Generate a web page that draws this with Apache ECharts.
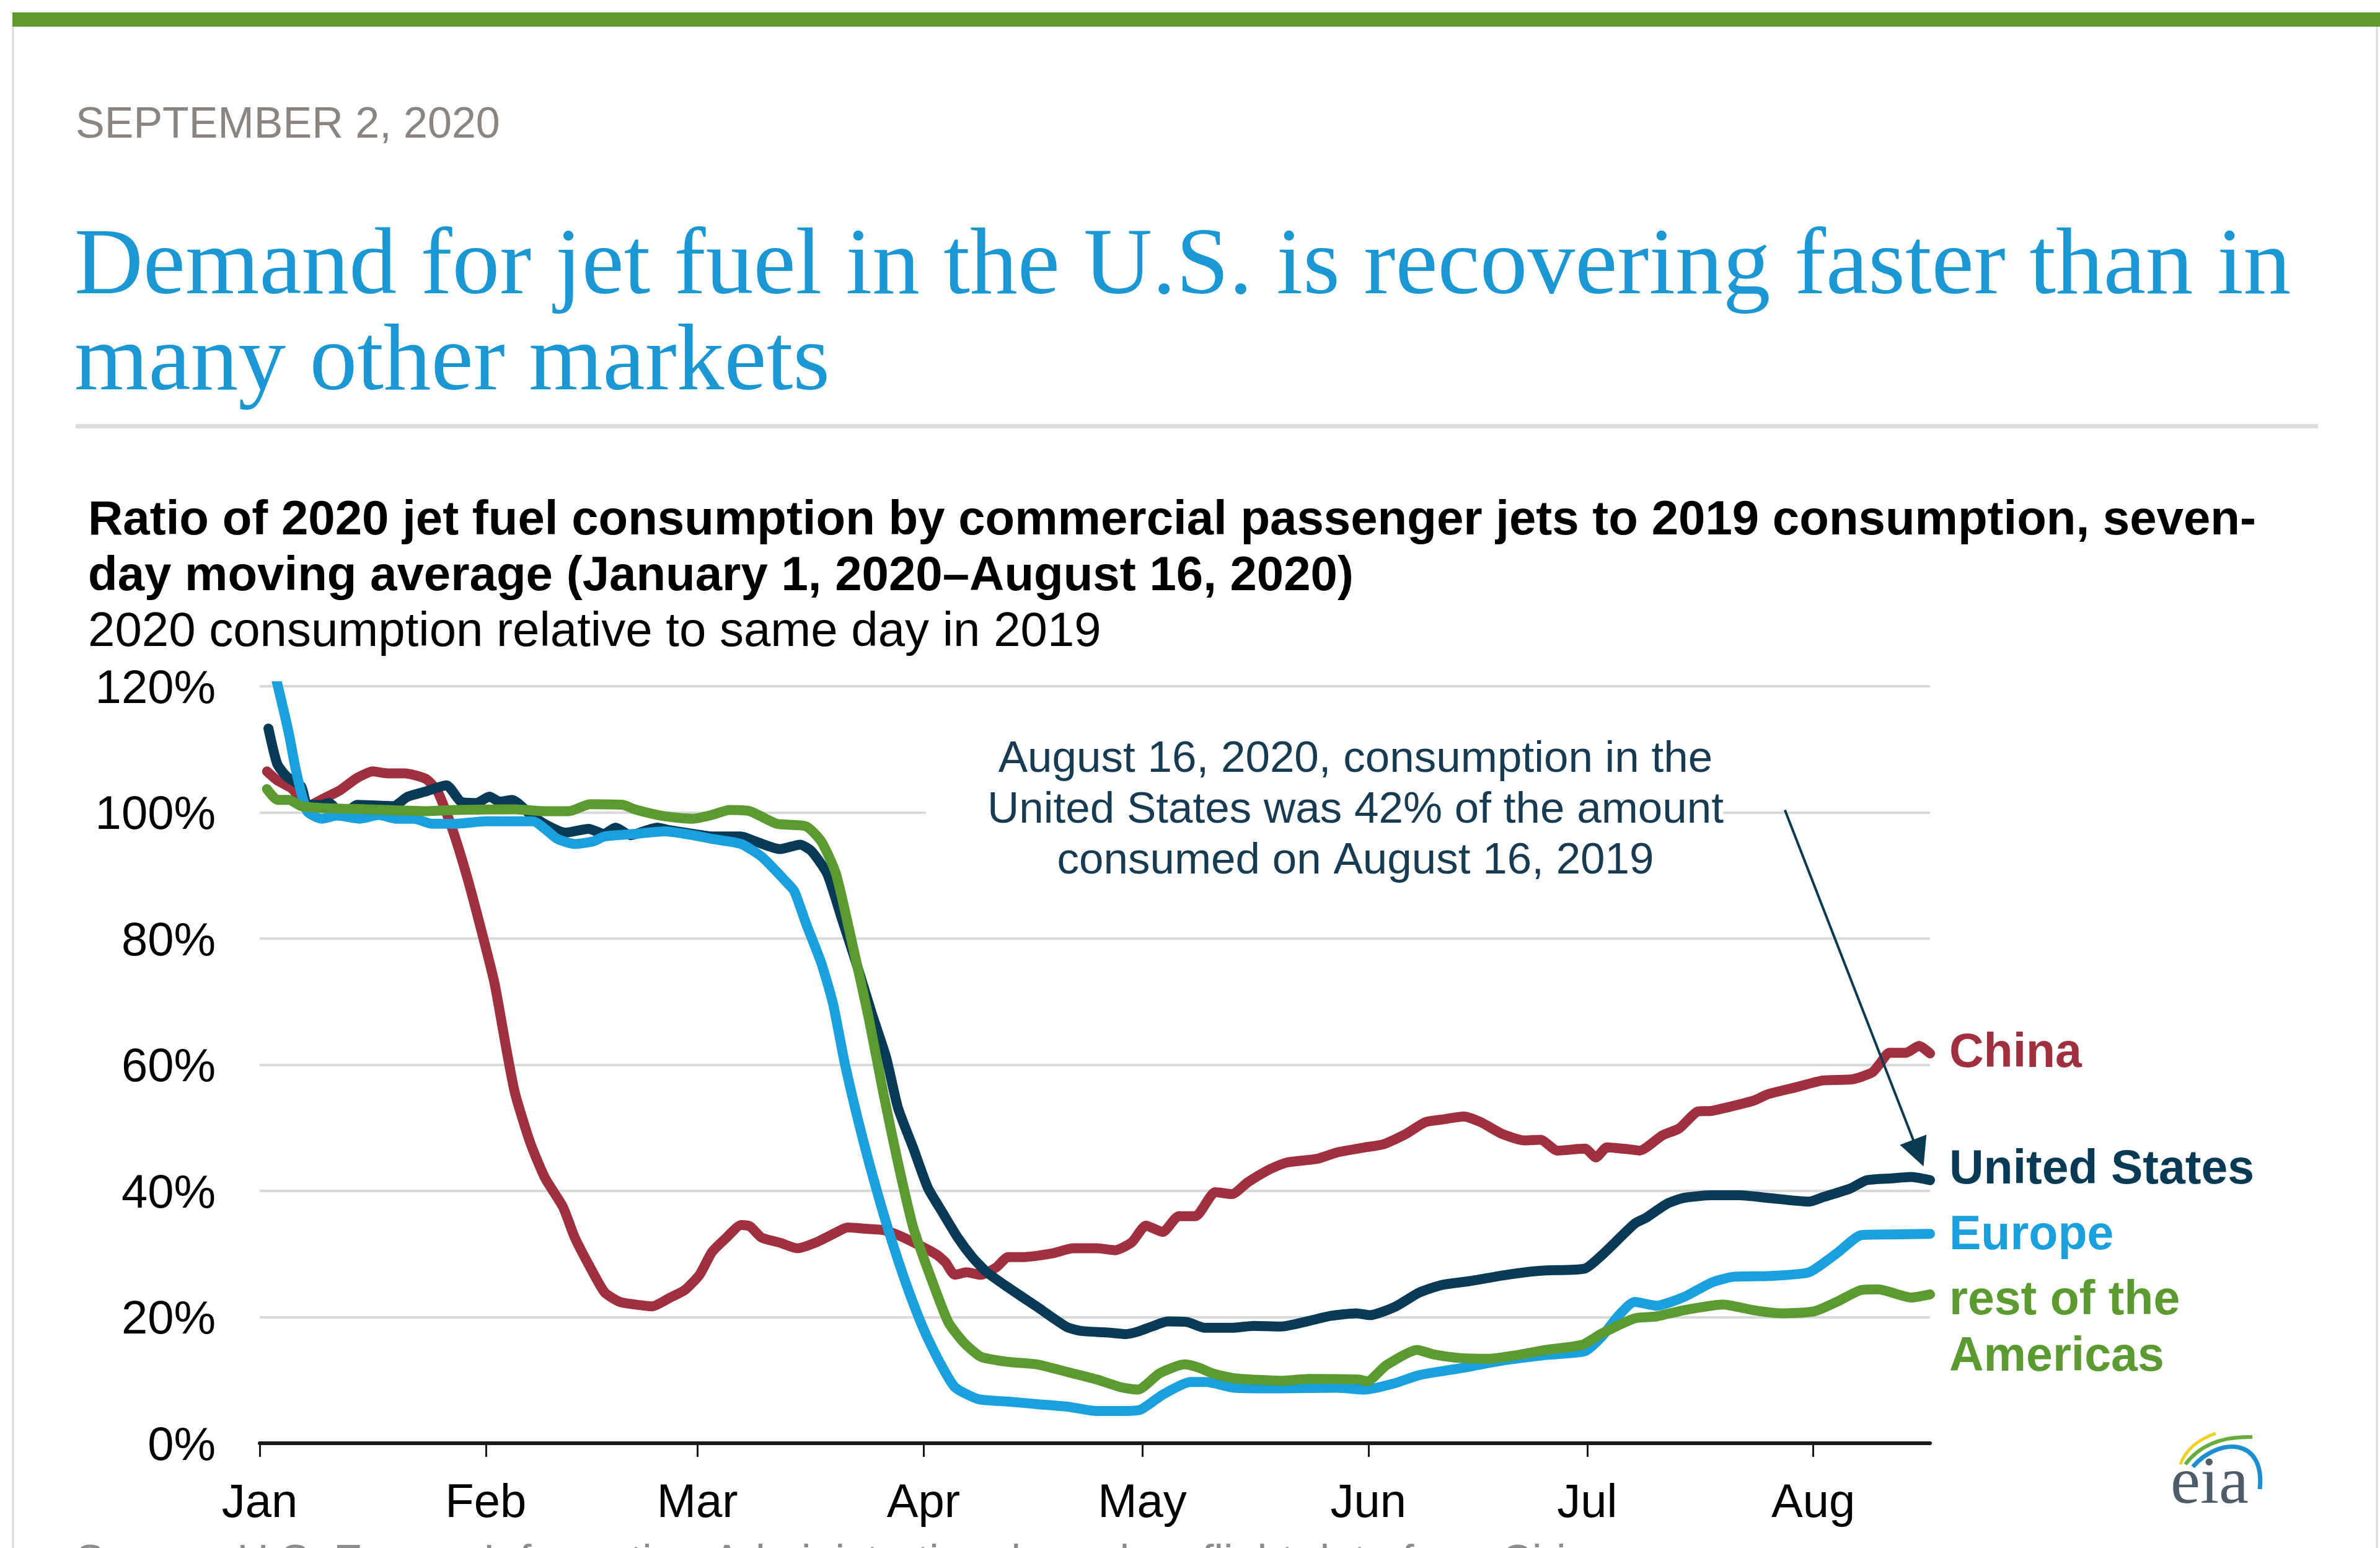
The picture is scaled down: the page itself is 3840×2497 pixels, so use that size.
<!DOCTYPE html>
<html>
<head>
<meta charset="utf-8">
<script src="https://cdn.jsdelivr.net/npm/echarts@6/dist/echarts.min.js"></script>
<style>
html,body{margin:0;padding:0;background:#ffffff;}
#chart{width:3840px;height:2497px;}
</style>
</head>
<body>
<div id="chart"></div>
<script>
// ---- Data (day of year 2020, Jan 1 = 0; value in %) ----
const monthTickDays = [0, 31, 60, 91, 121, 152, 182, 213];
const monthLabels = ['Jan', 'Feb', 'Mar', 'Apr', 'May', 'Jun', 'Jul', 'Aug'];
const seriesNames = ['China', 'United States', 'Europe', 'rest of the Americas'];
const endLabelTexts = ['China', 'United States', 'Europe', 'rest of the\nAmericas'];

const china = [[1,106.5],[2.4,105.1],[4.5,103.7],[6.5,101],[8.9,102.3],[11,103.5],[13.4,105.5],[15.5,106.5],[17.5,106.2],[19.9,106.2],[22.8,105.3],[24.4,103.3],[26.4,97.4],[28.5,89.5],[30.5,80.8],[32.2,72.9],[33.8,62.6],[35,55.5],[37.1,47.6],[39.1,42.1],[41.6,37.4],[43.2,32.6],[45.3,27.9],[47.3,23.9],[49.4,22.4],[51.4,22],[53.8,21.7],[56.3,23.1],[58.3,24.3],[60.3,26.7],[62,30.3],[64,32.6],[66,34.6],[67.2,34.4],[68.8,32.6],[71.3,31.8],[73.7,30.9],[76.2,31.8],[79,33.4],[80.6,34.2],[83.1,34],[85.5,33.8],[87.5,33],[90.4,31.4],[92.8,29.9],[94,28.7],[95.3,26.7],[96.9,27.1],[98.9,26.7],[101,27.9],[102.6,29.5],[104.6,29.5],[108.7,30.1],[111.5,30.9],[114.8,30.9],[117.3,30.6],[119.6,31.9],[121.5,34.5],[123.8,33.5],[126,36],[128.3,36],[131,39.8],[133.3,39.5],[135.5,41.4],[138.6,43.5],[140.8,44.5],[145,45.1],[147.7,46.1],[151.5,46.9],[154.1,47.4],[157.1,49],[159.8,50.9],[162,51.3],[165.1,51.8],[167.4,50.9],[170.4,49],[173.4,48],[175.6,48.1],[177.9,46.4],[181.7,46.7],[183.2,45.3],[184.7,46.9],[187.7,46.6],[189.2,46.4],[192.3,48.8],[194.6,49.9],[197.2,52.6],[199.1,52.7],[204.8,54.3],[206.7,55.3],[210.5,56.4],[214.3,57.5],[218.4,57.7],[221.1,58.8],[222.2,60.3],[223.4,61.9],[225.7,61.9],[227.5,63],[229,61.8]];

const unitedStates = [[1.2,113.3],[2.4,107.7],[3.7,105.7],[5.7,104.1],[6.5,101.3],[8.5,101.2],[9.5,101.5],[11.4,99.6],[13.4,101.2],[18.3,101],[20.3,102.5],[22.7,103.3],[25.6,104.3],[27.6,101.7],[29.7,101.5],[31.5,102.5],[32.9,101.7],[34.6,102],[37,99.8],[39,98.2],[41.9,96.8],[45.1,97.4],[47.2,96.6],[48.8,97.6],[50.8,96.4],[54.5,97.6],[56.1,97.2],[59.4,96.6],[62,96.2],[66,96.2],[68,95.4],[71.3,94.2],[74.1,94.9],[75.7,93.8],[77.8,90.3],[79.8,83.2],[81.8,76.1],[83.9,68.2],[85.9,61.1],[87.5,53.2],[89.6,46.8],[91.6,40.5],[93.6,36.6],[95.7,32.6],[97.7,29.5],[99.7,27.1],[102.6,24.7],[106.6,21.6],[110.7,18.4],[112.7,17.8],[116.8,17.5],[118.8,17.3],[120.4,17.7],[122.3,18.5],[124.5,19.3],[127.2,19.2],[129.5,18.3],[133.3,18.3],[136.3,18.6],[140.1,18.5],[143.9,19.4],[146.9,20.2],[150.3,20.6],[152.2,20.3],[155.6,21.6],[159,23.9],[162.1,25.1],[165.9,25.7],[170.4,26.6],[174.2,27.2],[176.4,27.4],[181.7,27.7],[184,29.8],[188.5,34.8],[190,35.7],[193,38],[195.3,38.9],[199.1,39.3],[202.9,39.3],[206.7,38.9],[212.4,38.3],[214.3,39],[218.1,40.4],[220.3,41.7],[223.8,42],[226.4,42.2],[229,41.7]];

const europe = [[1,127],[2.5,120],[4,112.5],[5,106.5],[6.5,100.2],[8.5,99],[10.6,99.5],[13.8,99],[16.3,99.6],[18.7,99],[21.2,99],[23.6,98.2],[26.9,98.2],[31,98.6],[34.2,98.6],[37.5,98.6],[39.1,97.4],[40.8,95.8],[43.2,95],[45.7,95.4],[47.3,96.2],[51.4,96.6],[55.5,97],[59.4,96.4],[62,95.8],[66,95],[68.8,93],[72.1,89.1],[73.3,87.5],[74.9,82.4],[77,76.1],[78.6,69.7],[80.2,60.3],[82.3,50],[84.3,41.3],[86.3,33.4],[88.8,24.7],[91.2,17.6],[93.2,12.9],[95.3,8.9],[98.5,7],[102.6,6.6],[106.6,6.2],[110.7,5.8],[114.8,5.1],[117.6,5.1],[120.7,5.3],[123.8,7.7],[127.6,9.7],[129.8,9.7],[133.6,8.8],[140.1,8.7],[147.7,8.8],[151.5,8.5],[155.3,9.4],[159,10.8],[164.7,11.9],[170.4,13.1],[176.4,14],[181.7,14.6],[184,16.9],[186.2,20.1],[188.5,22.4],[191.5,21.8],[195.3,23.2],[199.1,25.5],[202.1,26.4],[206.7,26.5],[212.4,27.1],[216.2,30.1],[219.6,33],[223.8,33.1],[229,33.2]];

const restOfAmericas = [[1,103.7],[2.4,102],[4,102],[5.7,101],[8.5,100.7],[14.6,100.5],[22.8,100.2],[26.9,100.4],[35,100.5],[39.1,100.2],[42.4,100.2],[45.3,101.3],[49.8,101.2],[51.4,100.5],[55.5,99.4],[59.4,99],[62,99.6],[64.4,100.4],[67.2,100.2],[70.9,98.2],[74.9,97.8],[77,95.4],[79,90.3],[81.4,78.4],[83.5,67.4],[85.5,55.5],[87.5,44.5],[89.6,34.2],[92,26.3],[94.4,19.2],[96.5,16],[98.9,13.7],[102.6,12.9],[106.6,12.5],[110.7,11.3],[114.8,10.1],[118,8.9],[120.4,8.5],[123.4,11.1],[126.8,12.5],[128.7,12],[130.6,11.1],[133.6,10.3],[140.1,9.9],[143.9,10.2],[150.7,10.1],[151.8,9.8],[154.5,12.4],[158.7,14.8],[160.9,14.1],[164.7,13.5],[168.5,13.4],[172.5,14],[176.4,14.8],[181.3,15.6],[184,17.4],[188.5,19.8],[191.5,20.1],[195.3,21.1],[200.6,22],[204.8,21.1],[208.6,20.6],[213.1,20.9],[216.2,22.4],[219.6,24.3],[221.9,24.4],[226.4,23.1],[229,23.6]];

// annotation arrow endpoints in data space [day, %]
const arrowFrom = [209.1, 100.4];
const arrowTo = [227.4, 46.0];

// ---- Styling ----
const colors = ['#a0303d', '#083a56', '#1aa0dc', '#5b9a31'];
const SANS = '"Liberation Sans", Arial, sans-serif';
const SERIF = '"Liberation Serif", "Times New Roman", serif';

const chart = echarts.init(document.getElementById('chart'), null, {renderer: 'canvas'});

const datasets = [china, unitedStates, europe, restOfAmericas];
const labelOffsets = [[0, 1], [0, -16], [0, 4], [0, 56]];

const series = datasets.map((d, i) => {
  const s = {
    name: seriesNames[i],
    type: 'line',
    data: d,
    showSymbol: false,
    symbol: 'none',
    smooth: 0.2,
    silent: true,
    z: 2,
    lineStyle: {color: colors[i], width: 16, cap: 'round', join: 'round'},
    itemStyle: {color: colors[i]},
    endLabel: {
      show: true,
      formatter: () => endLabelTexts[i],
      color: colors[i],
      fontFamily: SANS,
      fontWeight: 'bold',
      fontSize: 77,
      lineHeight: 91,
      distance: 31,
      offset: labelOffsets[i]
    }
  };
  if (i === 1) {
    s.markLine = {
      silent: true,
      symbol: ['none', 'triangle'],
      symbolSize: 46,
      label: {show: false},
      lineStyle: {color: '#0b3a53', width: 4, type: 'solid'},
      emphasis: {disabled: true},
      data: [[{coord: arrowFrom}, {coord: arrowTo}]]
    };
  }
  return s;
});

function txt(text, x, y, size, color, opts) {
  opts = opts || {};
  return {
    type: 'text', x: x, y: y, z: opts.z || 10,
    style: {
      text: text,
      fill: color,
      fontSize: size,
      fontFamily: opts.family || SANS,
      fontWeight: opts.weight || 'normal',
      align: opts.align || 'left',
      verticalAlign: 'middle',
      lineHeight: opts.lineHeight
    }
  };
}

const option = {
  backgroundColor: '#ffffff',
  animation: false,
  grid: {left: 419, top: 1107, width: 2695, height: 1221, containLabel: false},
  xAxis: {
    type: 'value', min: 0, max: 229,
    axisLine: {show: true, lineStyle: {color: '#1a1a1a', width: 6}},
    axisTick: {show: true, customValues: monthTickDays, length: 22, lineStyle: {color: '#1a1a1a', width: 3}},
    axisLabel: {
      customValues: monthTickDays,
      formatter: (v) => monthLabels[monthTickDays.indexOf(v)] || '',
      fontSize: 76, fontFamily: SANS, color: '#000', margin: 60, lineHeight: 76
    },
    splitLine: {show: false}
  },
  yAxis: {
    type: 'value', min: 0, max: 120, interval: 20,
    axisLine: {show: false}, axisTick: {show: false},
    axisLabel: {
      formatter: '{value}%', fontSize: 76, fontFamily: SANS, color: '#000', margin: 71,
      verticalAlign: 'top', lineHeight: 12
    },
    splitLine: {show: true, lineStyle: {color: '#d9d9d9', width: 4}}
  },
  series: series,
  graphic: {
    elements: [
      {type: 'rect', shape: {x: 20, y: 20, width: 3820, height: 23}, style: {fill: '#5e9a2e'}, z: 5},
      {type: 'line', shape: {x1: 21, y1: 43, x2: 21, y2: 2497}, style: {stroke: '#dadada', lineWidth: 3}, z: 5},
      {type: 'line', shape: {x1: 3835, y1: 43, x2: 3835, y2: 2497}, style: {stroke: '#dadada', lineWidth: 3}, z: 5},
      txt('SEPTEMBER 2, 2020', 122, 203, 70, '#8a8580'),
      txt('Demand for jet fuel in the U.S. is recovering faster than in', 120, 433, 153.5, '#1b97d4', {family: SERIF}),
      txt('many other markets', 120, 588, 153.5, '#1b97d4', {family: SERIF}),
      {type: 'rect', shape: {x: 122, y: 684, width: 3618, height: 7}, style: {fill: '#dcdcdc'}, z: 5},
      txt('Ratio of 2020 jet fuel consumption by commercial passenger jets to 2019 consumption, seven-', 142, 840, 78, '#000', {weight: 'bold'}),
      txt('day moving average (January 1, 2020\u2013August 16, 2020)', 142, 930, 78, '#000', {weight: 'bold'}),
      txt('2020 consumption relative to same day in 2019', 142, 1020, 78, '#000'),
      {type: 'rect', shape: {x: 1494, y: 1170, width: 1286, height: 260}, style: {fill: '#ffffff'}, z: 1},
      txt('August 16, 2020, consumption in the\nUnited States was 42% of the amount\nconsumed on August 16, 2019', 2187, 1307, 71, '#163b52', {align: 'center', lineHeight: 82}),
      txt('Source: U.S. Energy Information Administration, based on flight data from Cirium', 122, 2522, 70, '#8c8c8c'),
      {type: 'bezierCurve', shape: {x1: 3518, y1: 2362, cpx1: 3530, cpy1: 2328, x2: 3575, y2: 2312}, style: {stroke: '#f2cf1d', lineWidth: 5, fill: null}, z: 5},
      {type: 'bezierCurve', shape: {x1: 3526, y1: 2362, cpx1: 3560, cpy1: 2316, x2: 3634, y2: 2318}, style: {stroke: '#68ad3b', lineWidth: 6, fill: null}, z: 5},
      {type: 'bezierCurve', shape: {x1: 3538, y1: 2366, cpx1: 3580, cpy1: 2318, cpx2: 3655, cpy2: 2318, x2: 3646, y2: 2402}, style: {stroke: '#1b8fd2', lineWidth: 7, fill: null}, z: 5},
      txt('eia', 3502, 2396, 108, '#4e5c69', {family: SERIF})
    ]
  }
};

chart.setOption(option);
</script>
</body>
</html>
